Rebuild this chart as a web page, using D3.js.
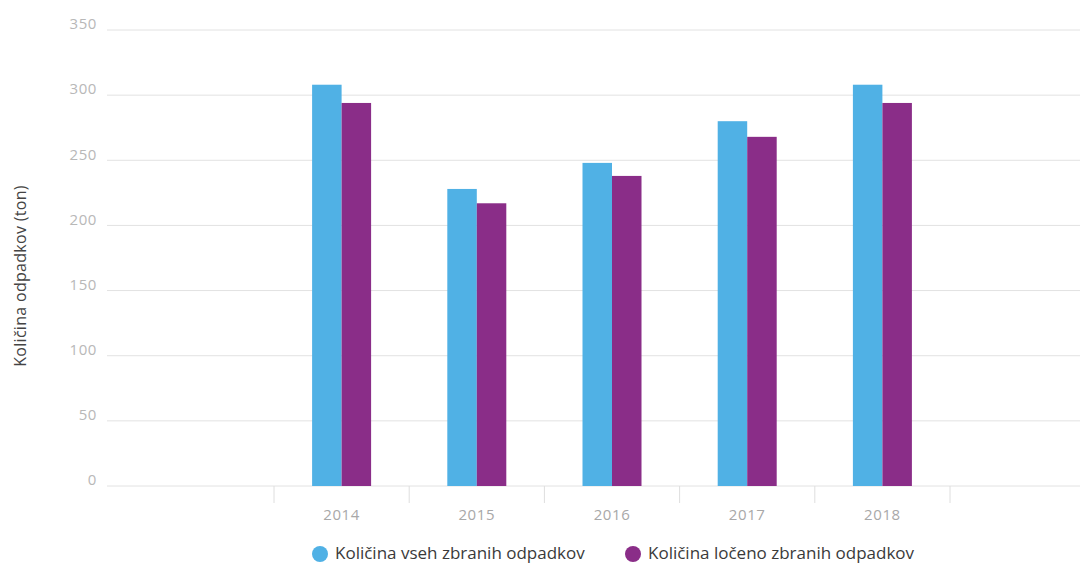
<!DOCTYPE html>
<html><head><meta charset="utf-8">
<script src="https://cdn.jsdelivr.net/npm/d3@7"></script>
<style>body{margin:0;background:#fff;}svg{display:block;font-family:"Open Sans",Lato,sans-serif;}</style>
</head><body><svg id="c" width="1080" height="564"></svg>
<script>
const categories = ["2014","2015","2016","2017","2018"];
const seriesNames = ["Količina vseh zbranih odpadkov","Količina ločeno zbranih odpadkov"];
const totalWaste = [308, 228, 248, 280, 308];
const separatedWaste = [294, 217, 238, 268, 294];
const yTicks = [0, 50, 100, 150, 200, 250, 300, 350];
const yTitle = "Količina odpadkov (ton)";
const colors = ["#50B1E5", "#8A2D88"];

const svg = d3.select("#c");
const gridLeft = 107, gridRight = 1080;
const y = d3.scaleLinear().domain([0, 350]).range([486, 30]);
const x = d3.scaleBand().domain(categories).range([274, 950]).padding(0);
const barW = 29.5;
const xs = d3.scaleBand().domain([0,1]).range([x.bandwidth()/2 - barW, x.bandwidth()/2 + barW]).padding(0);

// gridlines
svg.append("g").selectAll("line").data(yTicks).join("line")
  .attr("x1", gridLeft).attr("x2", gridRight)
  .attr("y1", d => y(d)).attr("y2", d => y(d))
  .attr("stroke", "#e2e2e2").attr("stroke-width", 1);

// y labels
const yAxis = d3.axisLeft(y).tickValues(yTicks).tickSize(0).tickPadding(0);
const ya = svg.append("g").attr("transform", "translate(97,-6)").call(yAxis);
ya.select(".domain").remove();
ya.selectAll("text").attr("fill", "#b8b8b8").style("font-size", "15px")
  .style("font-family", "'Open Sans', sans-serif").style("letter-spacing", "0.6px");

// bars
const data = categories.map((c, i) => ({c, vals: [totalWaste[i], separatedWaste[i]]}));
const groups = svg.append("g").selectAll("g").data(data).join("g")
  .attr("transform", d => `translate(${x(d.c)},0)`);
groups.selectAll("rect").data(d => d.vals.map((v, k) => ({v, k}))).join("rect")
  .attr("x", d => xs(d.k)).attr("width", xs.bandwidth())
  .attr("y", d => y(d.v)).attr("height", d => y(0) - y(d.v))
  .attr("fill", d => colors[d.k]);

// x axis
const xAxis = d3.axisBottom(x).tickSize(0).tickPadding(23);
const xa = svg.append("g").attr("transform", `translate(0,${y(0)})`).call(xAxis);
xa.select(".domain").remove();
xa.selectAll("text").attr("fill", "#a8a8a8").style("font-size", "15px")
  .style("font-family", "'Open Sans', sans-serif").style("letter-spacing", "0.6px");
// band boundary ticks
const bounds = categories.map(c => x(c)).concat([x(categories[categories.length-1]) + x.bandwidth()]);
svg.append("g").selectAll("line").data(bounds).join("line")
  .attr("x1", d => d).attr("x2", d => d)
  .attr("y1", y(0)).attr("y2", y(0) + 17)
  .attr("stroke", "#dedede");

// y title
svg.append("text").attr("transform", "translate(26,276) rotate(-90)")
  .attr("text-anchor", "middle").attr("fill", "#444")
  .style("font-size", "16px").style("letter-spacing", "0.3px").text(yTitle);

// legend
const legendPos = [{cx: 320, tx: 335}, {cx: 633, tx: 648}];
const lg = svg.append("g").selectAll("g").data(seriesNames).join("g");
lg.append("circle").attr("cx", (d, i) => legendPos[i].cx).attr("cy", 554).attr("r", 8)
  .attr("fill", (d, i) => colors[i]);
lg.append("text").attr("x", (d, i) => legendPos[i].tx).attr("y", 559)
  .attr("fill", "#3a3a3a").style("font-size", "17px").text(d => d);
</script></body></html>
